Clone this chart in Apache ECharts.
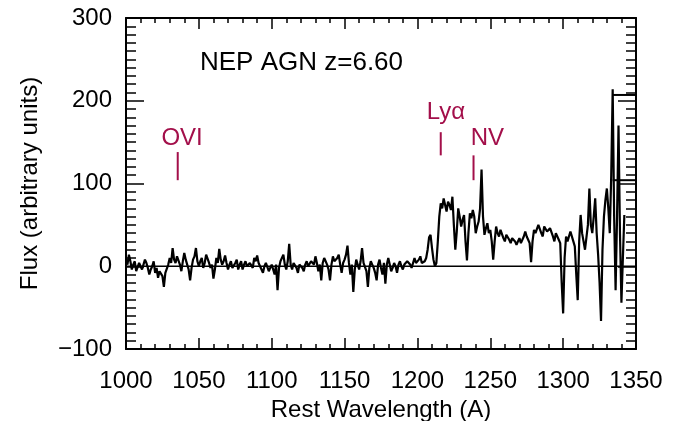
<!DOCTYPE html>
<html>
<head>
<meta charset="utf-8">
<title>NEP AGN z=6.60</title>
<script src="https://cdn.jsdelivr.net/npm/echarts@6/dist/echarts.min.js"></script>
<style>
  html, body { margin: 0; padding: 0; background: #fff; }
  #main { width: 680px; height: 421px; }
</style>
</head>
<body>
<div id="main"></div>
<script>
// 光谱数据: 起始波长, 步长 (A), 流量值
var waveStart = 1000;
var waveStep = 1;
var flux = [
  8, 2, 14, 6, -4, 2, 6, -6, -8, 4,
  2, -4, -6, 8, 4, -2, -10, -4, 0, 6,
  -8, -2, -14, -6, -4, -12, -25, -8, -6, 2,
  10, 4, 22, 8, 4, 12, 14, 2, -6, 6,
  16, 8, 2, -4, -17, -2, 8, 12, 22, 6,
  0, 6, 10, -2, 4, 14, 12, 4, -2, 2,
  -15, -4, 10, 4, 21, 8, 2, 6, 13, 4,
  -4, 2, 6, -2, 0, 4, 8, -4, 2, 6,
  -4, 2, 6, 0, 0, 4, 4, -2, 10, 6,
  13, 4, 2, -4, -8, 0, 4, 2, -6, -2,
  2, -4, -10, 2, -29, -2, 6, 4, 14, 2,
  -4, 6, 27, 2, -4, 4, 2, -2, -8, 2,
  4, -2, -6, 2, 6, 0, 0, 6, 8, 2,
  12, 4, -6, 2, -17, 4, 10, 6, 2, -4,
  -17, 2, 12, 6, 4, 10, 14, 2, -8, 4,
  8, 14, 25, 4, -10, 2, -31, -4, 8, 2,
  -4, 6, 22, 4, 2, -6, -25, -2, 6, 2,
  -2, -8, -17, 2, 8, -2, -10, 4, -21, 2,
  10, 2, -6, -2, 4, 0, -8, 2, 6, 0,
  -4, 2, 2, 6, 8, 2, -2, 4, 10, 4,
  4, 8, 12, 4, 2, 6, 10, 20, 35, 38,
  22, 8, 0, 4, 30, 60, 76, 70, 82, 74,
  66, 78, 74, 68, 84, 50, 20, 42, 70, 60,
  48, 56, 62, 30, 7, 40, 64, 58, 68, 60,
  40, 48, 54, 70, 117, 60, 38, 46, 52, 40,
  44, 30, 8, 30, 48, 40, 36, 44, 42, 34,
  30, 38, 40, 32, 28, 34, 36, 30, 26, 30,
  34, 28, 30, 36, 42, 36, 32, 28, 5, 30,
  44, 40, 38, 50, 48, 40, 36, 48, 46, 42,
  40, 46, 44, 36, 30, 40, 38, 32, 28, -20,
  -57, 10, 36, 30, 30, 42, 40, 30, 24, -10,
  -41, 30, 62, 40, 30, 20, 22, 50, 94, 50,
  40, 60, 82, 40, 14, -20, -66, 20, 60, 80,
  94, 70, 40, 110, 214, 60, -29, 60, 170, 40,
  -44, 10, 62
];
// 光谱末端的两条水平线
var tailStart = 1334;
var tailLevels = [207, 104];

// 发射线标记
var ionNames = ['OVI', 'Lyα', 'NV'];
var ionWaves = [1035.5, 1216, 1238.5];
var ionBottom = [104, 134, 104];
var ionTop = [138, 162, 134];
var ionLabelX = [1038.5, 1219.5, 1248];
var ionLabelY = [155, 186, 155];

// 坐标轴
var xMin = 1000, xMax = 1350, xStep = 50;
var yMin = -100, yMax = 300, yStep = 100;

var fontName = 'Liberation Sans';
var ionColor = '#a30f4a';

var chart = echarts.init(document.getElementById('main'));

var specData = flux.map(function (v, i) {
  return [waveStart + i * waveStep, v];
});

function xAxisOf(pos, showLabel) {
  return {
    type: 'value',
    position: pos,
    min: xMin, max: xMax, interval: xStep,
    axisLine: { show: true, onZero: false, lineStyle: { color: '#000', width: 2 } },
    axisTick: { show: true, inside: true, length: 11, lineStyle: { color: '#000', width: 1.5 } },
    minorTick: { show: true, splitNumber: 5, length: 5, lineStyle: { color: '#000', width: 1.5 } },
    splitLine: { show: false },
    axisLabel: {
      show: showLabel, margin: 20, color: '#000',
      fontFamily: fontName, fontSize: 24,
      formatter: function (v) { return String(v); }
    },
    name: showLabel ? 'Rest Wavelength (A)' : '',
    nameLocation: 'middle',
    nameGap: 45,
    nameTextStyle: { color: '#000', fontFamily: fontName, fontSize: 24 }
  };
}

function yAxisOf(pos, showLabel) {
  return {
    type: 'value',
    position: pos,
    min: yMin, max: yMax, interval: yStep,
    axisLine: { show: true, onZero: false, lineStyle: { color: '#000', width: 2 } },
    axisTick: { show: true, inside: true, length: 18, lineStyle: { color: '#000', width: 1.5 } },
    minorTick: { show: true, splitNumber: 10, length: 10, lineStyle: { color: '#000', width: 1.5 } },
    splitLine: { show: false },
    axisLabel: {
      show: showLabel, margin: 14, color: '#000',
      fontFamily: fontName, fontSize: 24,
      formatter: function (v) { return v < 0 ? '\u2212' + Math.abs(v) : String(v); }
    },
    name: showLabel ? 'Flux (arbitrary units)' : '',
    nameLocation: 'middle',
    nameGap: 84,
    nameTextStyle: { color: '#000', fontFamily: fontName, fontSize: 24 }
  };
}

var series = [];
// 零线
series.push({
  type: 'line', symbol: 'none',
  data: [[xMin, 0], [xMax, 0]],
  lineStyle: { color: '#000', width: 1.5 }
});
// 光谱
series.push({
  type: 'line', symbol: 'none',
  data: specData,
  lineStyle: { color: '#000', width: 2.2 }
});
// 末端水平线
tailLevels.forEach(function (lv) {
  series.push({
    type: 'line', symbol: 'none',
    data: [[tailStart, lv], [xMax, lv]],
    lineStyle: { color: '#000', width: 2 }
  });
});
// 发射线标记和文字
ionNames.forEach(function (name, i) {
  series.push({
    type: 'line', symbol: 'none',
    data: [[ionWaves[i], ionBottom[i]], [ionWaves[i], ionTop[i]]],
    lineStyle: { color: ionColor, width: 2 }
  });
  series.push({
    type: 'line', symbol: 'circle', symbolSize: 1, showSymbol: true,
    itemStyle: { color: 'rgba(0,0,0,0)' },
    data: [[ionLabelX[i], ionLabelY[i]]],
    label: {
      show: true, position: 'inside', formatter: name,
      color: ionColor, fontFamily: fontName, fontSize: 24
    }
  });
});

var option = {
  animation: false,
  title: {
    text: 'NEP AGN z=6.60',
    left: 195, top: 45,
    textStyle: { color: '#000', fontWeight: 'normal', fontFamily: fontName, fontSize: 26 }
  },
  grid: { left: 126, right: 44, top: 18, bottom: 72, containLabel: false, outerBoundsMode: 'none' },
  xAxis: [xAxisOf('bottom', true), xAxisOf('top', false)],
  yAxis: [yAxisOf('left', true), yAxisOf('right', false)],
  series: series
};
chart.setOption(option);
</script>
</body>
</html>
